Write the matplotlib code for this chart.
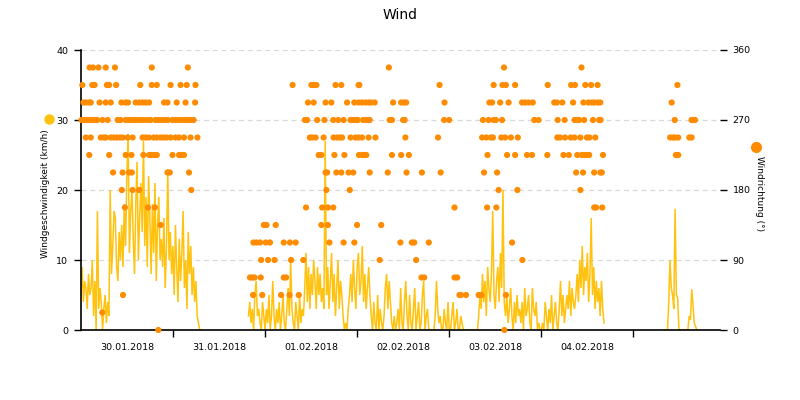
import numpy as np
import matplotlib
matplotlib.use("Agg")
import matplotlib.pyplot as plt
import matplotlib.dates as mdates

# Zeitachse: Stunden ab 30.01.2018 00:00, Windgeschwindigkeit alle 20 min
START = np.datetime64("2018-01-30T00:00")
STEP_MIN = 20
X_END_H = 166.6

speed_a_start_h = 0.0
speed_a = [5, 9, 4, 7, 6, 3, 8, 5, 6, 10, 2, 7, 0, 17, 3, 6,
           4, 0, 3, 5, 1, 4, 2, 20, 8, 12, 17, 16, 9, 7, 14, 10,
           15, 9, 18, 12, 22, 28, 11, 17, 20, 13, 8, 18, 24, 10, 16, 21,
           14, 27, 12, 19, 9, 22, 16, 8, 18, 11, 21, 7, 15, 19, 10, 13,
           9, 16, 6, 12, 23, 10, 14, 8, 12, 5, 15, 9, 4, 13, 7, 11,
           17, 6, 10, 3, 14, 8, 12, 5, 9, 4, 7, 2, 1, 0]

speed_b_start_h = 43.7
speed_b = [2, 4, 1, 3, 0, 5, 7, 2, 3,
           1, 0, 4, 2, 0, 3, 1, 5, 0, 2,
           7, 2, 0, 3, 1,
           4, 0, 2, 5, 1, 0, 3, 6, 2,
           10, 3, 1,
           0, 4, 2, 0, 5, 1, 3, 2,
           6, 11, 4, 9, 3, 8, 5, 10, 7, 3, 9, 5, 8, 4, 6, 3,
           27,
           5, 9, 3, 7, 11, 4, 8, 2, 6, 10, 3, 7, 5, 2,
           0, 1, 0, 3, 5,
           8, 4, 10, 6, 3, 9, 11, 5, 7, 12, 4, 8, 3, 6, 9, 5,
           2, 0, 4, 1, 0, 5, 0, 3, 1, 0, 2,
           6, 8, 3, 7, 4,
           1, 0, 2, 0, 1,
           3, 0, 6, 1, 0, 4, 7, 2, 0, 5, 1, 0, 3, 6, 0, 2, 4, 0, 1, 5, 7, 0, 2, 3, 0,
           0, 0, 0, 0,
           2, 7, 3, 1, 2, 0,
           0, 3, 1, 0, 4, 0, 0, 2, 4, 0, 1, 3, 0, 0, 2, 1, 0, 0,
           0, 0, 0, 0, 0, 0, 0, 0, 0, 0,
           2, 5, 3, 8, 4, 7, 2, 9, 6, 4, 8, 17, 5, 3, 7, 9, 4, 11, 6, 20,
           4, 2, 5, 1, 3, 6, 2, 0, 4, 1, 5, 2, 3,
           1, 4, 0, 6, 2, 3, 5, 1, 0, 6, 3, 2, 4,
           0, 1, 0, 0, 1, 0,
           4, 2, 0, 3, 1, 5, 0, 2, 4, 1, 0, 3, 7, 2, 5, 1, 3,
           5, 3, 7, 2, 6, 4, 3, 5,
           8, 4, 10, 6, 12, 5, 9, 7, 11, 4, 8, 16,
           5, 9, 3, 7, 4, 6, 2, 7, 3, 1]

speed_c_start_h = 151.9
speed_c = [0, 0, 0, 0, 3.8, 10, 6, 5, 3, 17.3, 5, 4.6, 0,
           0, 0, 0, 0, 0, 0, 0, 2, 1.5, 5.8, 3.6, 1, 0.5, 0]

# Windrichtung: Zeitpunkte (Stunden) je Richtungsstufe
dir_337 = [2.3, 3.2, 4.6, 6.5, 8.9, 18.5, 27.9, 80.3, 110.3, 130.5]
dir_315 = [0.4, 3.0, 3.6, 6.8, 7.4, 9.2, 15.5, 18.5, 19.8, 23.4, 26.0, 27.6,
           29.9, 55.2, 60.1, 60.7, 61.4, 66.4, 67.9, 72.4, 72.6, 93.5, 107.6,
           109.9, 110.8, 113.2, 121.7, 127.8, 128.8, 131.5, 133.0, 134.7, 155.5]
dir_292 = [0.7, 1.3, 2.2, 2.6, 4.9, 6.5, 7.8, 10.6, 11.7, 12.3, 14.3, 15.2,
           16.1, 16.9, 17.8, 21.7, 22.6, 25.0, 27.3, 29.8, 59.2, 60.7, 63.8,
           65.3, 69.4, 71.3, 72.4, 73.3, 74.2, 75.0, 75.7, 76.6, 81.4, 83.5,
           84.2, 84.8, 94.8, 106.5, 107.2, 109.3, 111.5, 115.0, 115.8, 116.7,
           117.8, 123.4, 124.1, 125.5, 128.3, 131.0, 132.3, 133.2, 133.8,
           134.7, 135.4, 154.0]
dir_270 = [0.2, 0.8, 1.4, 2.1, 2.9, 3.6, 4.3, 5.6, 7.0, 9.6, 10.4, 11.7, 12.5,
           13.3, 14.1, 14.8, 15.6, 16.4, 17.4, 18.2, 19.5, 20.3, 21.1, 21.9,
           22.6, 23.9, 24.7, 25.5, 26.3, 27.1, 27.9, 28.6, 29.4,
           58.4, 59.0, 61.6, 63.5, 65.8, 67.1, 68.5, 70.3, 71.0, 71.6, 72.2,
           73.6, 74.2, 74.8, 75.3, 80.5, 81.1, 84.0, 84.4, 94.7, 96.0, 104.8,
           106.3, 107.6, 108.2, 109.8, 118.2, 119.3, 124.3, 126.1, 128.7,
           129.3, 129.9, 131.2, 133.5, 135.1, 135.5, 154.8, 159.2, 159.6, 160.1]
dir_247 = [1.3, 2.6, 5.2, 6.0, 6.5, 7.8, 8.6, 9.4, 10.2, 10.9, 12.2, 13.5,
           16.1, 16.9, 17.7, 19.0, 19.8, 20.8, 21.6, 22.4, 23.4, 24.7, 25.6,
           26.9, 28.6, 30.4,
           59.7, 60.3, 61.2, 63.3, 65.9, 66.8, 67.5, 68.1, 70.3, 71.6, 72.4,
           73.3, 75.0, 76.8, 84.6, 93.1, 104.6, 105.7, 106.9, 107.4, 109.6,
           110.6, 112.1, 113.9, 124.2, 124.9, 126.2, 127.7, 128.7, 130.2,
           131.9, 132.6, 134.1, 153.6, 154.3, 154.9, 155.7, 158.6, 159.2]
dir_225 = [2.2, 7.4, 11.7, 13.2, 16.3, 17.8, 18.4, 19.1, 19.8, 23.9, 25.6,
           26.3, 26.9, 62.0, 62.7, 66.1, 68.7, 72.5, 73.3, 73.9, 74.4, 81.1,
           83.5, 85.5, 106.0, 111.1, 113.2, 116.3, 117.6, 121.6, 125.8, 127.2,
           129.4, 130.6, 131.2, 131.9, 132.5, 136.1, 155.1, 155.7]
dir_202 = [8.4, 10.9, 12.6, 13.3, 22.6, 23.2, 28.2, 63.8, 64.2, 66.6, 67.9,
           69.8, 71.0, 75.3, 80.0, 84.9, 88.9, 93.8, 105.1, 108.5, 129.1,
           130.9, 133.8, 135.4, 135.8]
dir_180 = [10.7, 13.5, 15.2, 28.8, 64.0, 70.1, 108.9, 113.8, 130.2]
dir_157 = [11.5, 17.5, 19.3, 58.7, 62.9, 64.4, 65.8, 97.4, 105.9, 108.3,
           133.8, 134.3, 135.9]
dir_135 = [20.8, 47.7, 48.4, 50.8, 62.7, 64.4, 72.0, 78.3]
dir_112 = [45.0, 45.8, 46.7, 48.2, 49.3, 52.9, 54.5, 56.0, 64.8, 68.5, 71.3,
           83.3, 86.3, 86.9, 90.7, 112.4]
dir_090 = [47.0, 48.8, 50.5, 54.8, 58.0, 77.9, 87.4, 115.1]
dir_067 = [44.1, 44.7, 45.3, 46.9, 52.9, 53.5, 88.8, 89.5, 97.4, 98.1]
dir_045 = [11.0, 44.9, 47.3, 52.2, 54.4, 56.8, 98.7, 99.1, 100.4, 103.7,
           104.4, 110.8]
dir_022 = [5.6]
dir_000 = [20.2, 110.4]

day_labels = ["30.01.2018", "31.01.2018", "01.02.2018",
              "02.02.2018", "03.02.2018", "04.02.2018"]

SPEED = "#FFC20E"
DIRECTION = "#FF8C00"
GRID = "#D9D9D9"


def hours_to_num(hours):
    secs = np.round(np.asarray(hours, dtype=float) * 3600).astype("int64")
    return mdates.date2num(START + secs.astype("timedelta64[s]"))


def segment_times(start_h, values):
    return hours_to_num(start_h + np.arange(len(values)) * STEP_MIN / 60.0)


fig = plt.figure(figsize=(8, 4), dpi=100)
ax = fig.add_axes([0.101, 0.175, 0.799, 0.70])
ax2 = ax.twinx()

for start_h, values in [(speed_a_start_h, speed_a),
                        (speed_b_start_h, speed_b),
                        (speed_c_start_h, speed_c)]:
    ax.plot(segment_times(start_h, values), values, color=SPEED, lw=1.1,
            solid_joinstyle="miter", zorder=2)

rows = [(337.5, dir_337), (315, dir_315), (292.5, dir_292), (270, dir_270),
        (247.5, dir_247), (225, dir_225), (202.5, dir_202), (180, dir_180),
        (157.5, dir_157), (135, dir_135), (112.5, dir_112), (90, dir_090),
        (67.5, dir_067), (45, dir_045), (22.5, dir_022), (0, dir_000)]
for deg, hours in rows:
    ax2.scatter(hours_to_num(hours), np.full(len(hours), deg), s=20,
                color=DIRECTION, edgecolors="none", zorder=3, clip_on=False)

x0 = hours_to_num([0.0])[0]
x1 = hours_to_num([X_END_H])[0]
ax.set_xlim(x0, x1)
ax.set_ylim(0, 40)
ax2.set_ylim(0, 360)

# x-Achse: Striche um Mitternacht, Beschriftung mittags
ax.set_xticks(hours_to_num(np.arange(24, X_END_H, 24)))
ax.set_xticklabels([])
ax.set_xticks(hours_to_num(np.arange(len(day_labels)) * 24 + 12), minor=True)
ax.set_xticklabels(day_labels, minor=True)
ax.tick_params(axis="x", which="major", length=5, width=1, color="black")
ax.tick_params(axis="x", which="minor", length=0, pad=9, labelsize=6.8)

ax.set_yticks([0, 10, 20, 30, 40])
ax.tick_params(axis="y", length=5, width=1, pad=4, labelsize=6.8)
ax2.set_yticks([0, 90, 180, 270, 360])
ax2.tick_params(axis="y", length=5, width=1, pad=4, labelsize=6.8)

for side in ["top", "right"]:
    ax.spines[side].set_visible(False)
for side in ["top", "right", "left", "bottom"]:
    ax2.spines[side].set_visible(False)
ax.spines["left"].set_linewidth(1.2)
ax.spines["bottom"].set_linewidth(1.2)

ax.yaxis.grid(True, color=GRID, linestyle=(0, (4, 3)), linewidth=0.9)
ax.set_axisbelow(True)

fig.text(0.5, 0.9625, "Wind", ha="center", va="center", fontsize=10)
fig.text(0.0575, 0.515, "Windgeschwindigkeit (km/h)", rotation=90,
         ha="center", va="center", fontsize=6.5)
fig.text(0.949, 0.515, "Windrichtung (°)", rotation=270,
         ha="center", va="center", fontsize=6.5)
fig.lines.append(plt.Line2D([0.061], [0.7025], marker="o", markersize=6.5,
                            color=SPEED, transform=fig.transFigure))
fig.lines.append(plt.Line2D([0.9446], [0.633], marker="o", markersize=7,
                            color=DIRECTION, transform=fig.transFigure))

fig.savefig("out.png", dpi=100, facecolor="white")
